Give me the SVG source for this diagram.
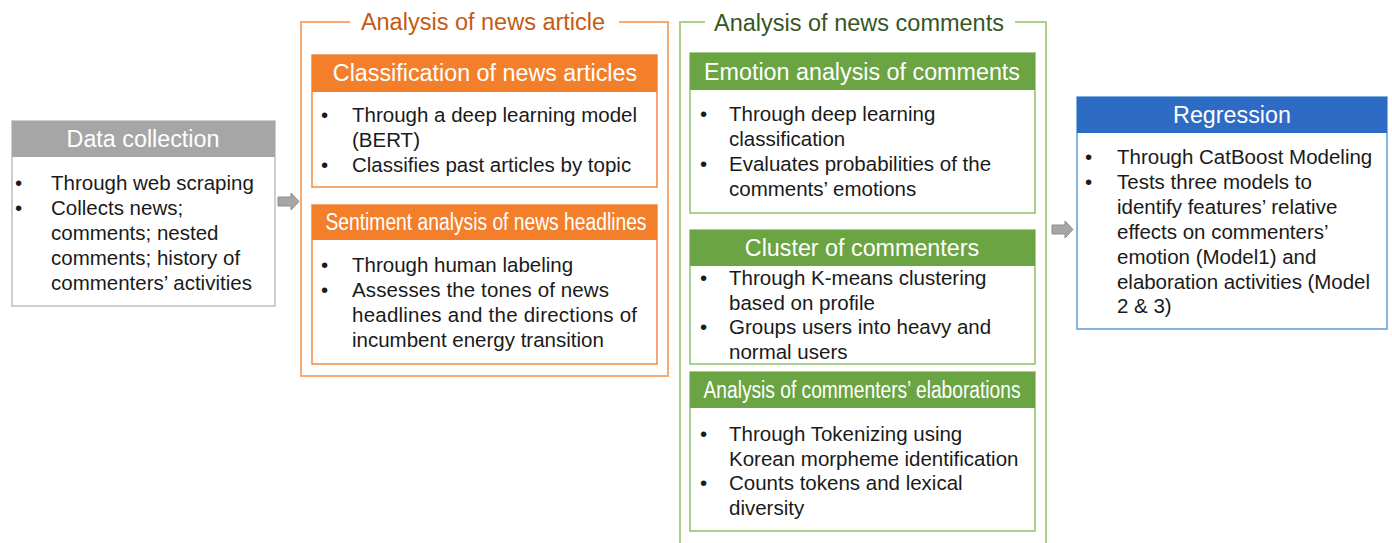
<svg xmlns="http://www.w3.org/2000/svg" width="1392" height="543" viewBox="0 0 1392 543">
  <style>
    text { font-family: "Liberation Sans", Arial, sans-serif; }
    .body { font-size: 20.5px; fill: #1a1a1a; }
    .head { font-size: 23.3px; fill: #ffffff; text-anchor: middle; }
    .gtitle { font-size: 23.5px; text-anchor: middle; }
    .box { fill: #ffffff; stroke-width: 1.5; }
    .arrow { fill: #a6a6a6; stroke: #8c8c8c; stroke-width: 1; }
  </style>
  <rect width="1392" height="543" fill="#ffffff"/>

  <!-- Group frames -->
  <g id="group-article">
    <path d="M350 22 H301 V376 H668 V22 H619" fill="none" stroke="#f8aa72" stroke-width="2"/>
    <text class="gtitle" x="483" y="30" fill="#c55a11">Analysis of news article</text>
  </g>
  <g id="group-comments">
    <path d="M705 22 H680 V543 M1046 543 V22 H1015" fill="none" stroke="#a9d18e" stroke-width="2"/>
    <text class="gtitle" x="859" y="31" fill="#375623">Analysis of news comments</text>
  </g>

  <!-- Data collection -->
  <g id="data-collection">
    <rect class="box" x="12" y="121" width="263" height="185" stroke="#bfbfbf"/>
    <rect x="12" y="121" width="263" height="36" fill="#a6a6a6"/>
    <text class="head" x="143" y="147">Data collection</text>
    <text class="body" x="15" y="190">•</text>
    <text class="body" x="51" y="190">Through web scraping</text>
    <text class="body" x="15" y="215">•</text>
    <text class="body" x="51" y="215">Collects news;</text>
    <text class="body" x="51" y="240">comments; nested</text>
    <text class="body" x="51" y="265">comments; history of</text>
    <text class="body" x="51" y="290">commenters’ activities</text>
  </g>

  <!-- Classification of news articles -->
  <g id="classification">
    <rect class="box" x="312" y="55" width="345" height="132" stroke="#f08a44"/>
    <rect x="312" y="55" width="345" height="37" fill="#f47f2b"/>
    <text class="head" x="485" y="81">Classification of news articles</text>
    <text class="body" x="321" y="122">•</text>
    <text class="body" x="352" y="122" textLength="285" lengthAdjust="spacing">Through a deep learning model</text>
    <text class="body" x="352" y="147">(BERT)</text>
    <text class="body" x="321" y="172">•</text>
    <text class="body" x="352" y="172">Classifies past articles by topic</text>
  </g>

  <!-- Sentiment analysis of news headlines -->
  <g id="sentiment">
    <rect class="box" x="312" y="205" width="345" height="159" stroke="#f08a44"/>
    <rect x="312" y="205" width="345" height="35" fill="#f47f2b"/>
    <text class="head" x="486" y="230" textLength="321" lengthAdjust="spacingAndGlyphs">Sentiment analysis of news headlines</text>
    <text class="body" x="321" y="272">•</text>
    <text class="body" x="352" y="272">Through human labeling</text>
    <text class="body" x="321" y="297">•</text>
    <text class="body" x="352" y="297" textLength="257" lengthAdjust="spacing">Assesses the tones of news</text>
    <text class="body" x="352" y="322" textLength="285" lengthAdjust="spacing">headlines and the directions of</text>
    <text class="body" x="352" y="347">incumbent energy transition</text>
  </g>

  <!-- Emotion analysis of comments -->
  <g id="emotion">
    <rect class="box" x="690" y="53" width="345" height="160" stroke="#8cc168"/>
    <rect x="690" y="53" width="345" height="37" fill="#6ba443"/>
    <text class="head" x="862" y="80">Emotion analysis of comments</text>
    <text class="body" x="700" y="121">•</text>
    <text class="body" x="729" y="121">Through deep learning</text>
    <text class="body" x="729" y="146">classification</text>
    <text class="body" x="700" y="171">•</text>
    <text class="body" x="729" y="171">Evaluates probabilities of the</text>
    <text class="body" x="729" y="196">comments’ emotions</text>
  </g>

  <!-- Cluster of commenters -->
  <g id="cluster">
    <rect class="box" x="690" y="230" width="345" height="134" stroke="#8cc168"/>
    <rect x="690" y="230" width="345" height="36" fill="#6ba443"/>
    <text class="head" x="862" y="256">Cluster of commenters</text>
    <text class="body" x="700" y="285">•</text>
    <text class="body" x="729" y="285">Through K-means clustering</text>
    <text class="body" x="729" y="310">based on profile</text>
    <text class="body" x="700" y="334">•</text>
    <text class="body" x="729" y="334">Groups users into heavy and</text>
    <text class="body" x="729" y="359">normal users</text>
  </g>

  <!-- Analysis of commenters' elaborations -->
  <g id="elaborations">
    <rect class="box" x="690" y="372" width="345" height="159" stroke="#8cc168"/>
    <rect x="690" y="372" width="345" height="36" fill="#6ba443"/>
    <text class="head" x="862" y="398" textLength="317" lengthAdjust="spacingAndGlyphs">Analysis of commenters’ elaborations</text>
    <text class="body" x="700" y="441">•</text>
    <text class="body" x="729" y="441">Through Tokenizing using</text>
    <text class="body" x="729" y="466">Korean morpheme identification</text>
    <text class="body" x="700" y="490">•</text>
    <text class="body" x="729" y="490">Counts tokens and lexical</text>
    <text class="body" x="729" y="515">diversity</text>
  </g>

  <!-- Regression -->
  <g id="regression">
    <rect class="box" x="1077" y="97" width="310" height="232" stroke="#5b9bd5"/>
    <rect x="1077" y="97" width="310" height="36" fill="#2e6bc4"/>
    <text class="head" x="1232" y="123">Regression</text>
    <text class="body" x="1085" y="164">•</text>
    <text class="body" x="1117" y="164">Through CatBoost Modeling</text>
    <text class="body" x="1085" y="189">•</text>
    <text class="body" x="1117" y="189">Tests three models to</text>
    <text class="body" x="1117" y="214">identify features’ relative</text>
    <text class="body" x="1117" y="239">effects on commenters’</text>
    <text class="body" x="1117" y="264">emotion (Model1) and</text>
    <text class="body" x="1117" y="289" textLength="253" lengthAdjust="spacing">elaboration activities (Model</text>
    <text class="body" x="1117" y="313">2 &amp; 3)</text>
  </g>

  <!-- Connectors -->
  <g id="connectors">
    <path class="arrow" d="M278 197 H291 V193 L299 201.5 L291 210 V206 H278 Z"/>
    <path class="arrow" d="M1052 225 H1065 V221 L1073 229.5 L1065 238 V234 H1052 Z"/>
  </g>
</svg>
